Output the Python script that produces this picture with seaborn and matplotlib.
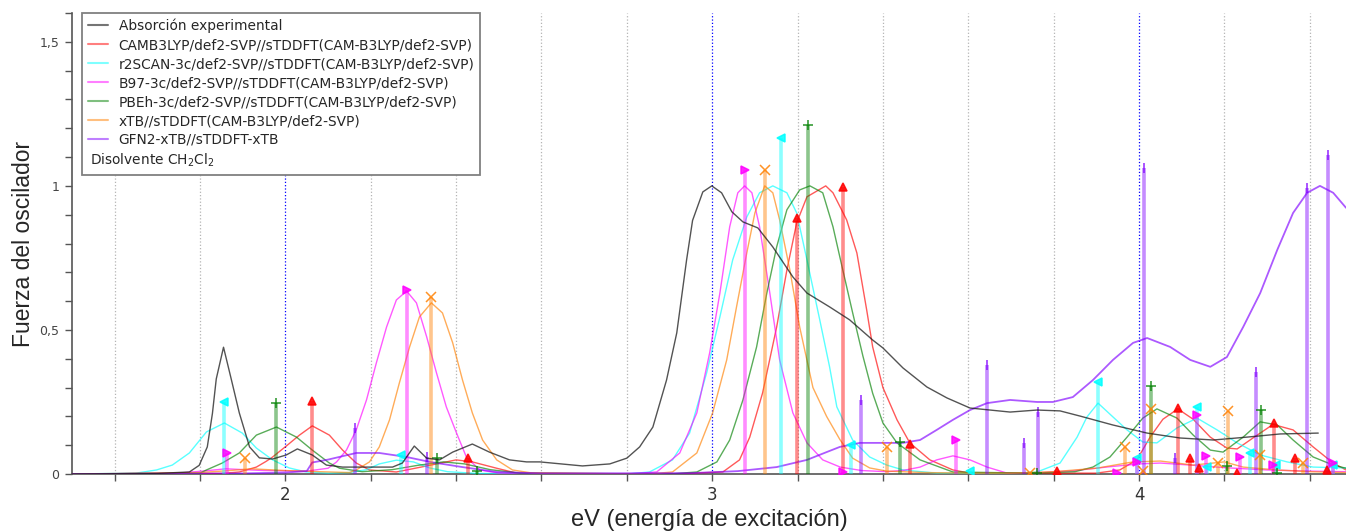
import numpy as np
import pandas as pd
import seaborn as sns
import matplotlib.pyplot as plt
from matplotlib.lines import Line2D

sns.set_theme(style="white")
plt.rcParams["font.family"] = ["DejaVu Sans"]

# ---- values (eV, normalised intensity / f) ----
exp_ev = [1.50, 1.70, 1.775, 1.798, 1.817, 1.829, 1.838, 1.855, 1.873, 1.892, 1.916, 1.939, 1.970,
          2.002, 2.028, 2.063, 2.096, 2.134, 2.251, 2.274, 2.302, 2.331, 2.361, 2.392, 2.438, 2.478,
          2.525, 2.565, 2.596, 2.696, 2.760, 2.800, 2.830, 2.861, 2.893, 2.917, 2.940, 2.954, 2.978,
          2.999, 3.022, 3.046, 3.072, 3.107, 3.142, 3.189, 3.222, 3.275, 3.322, 3.376, 3.400, 3.447,
          3.503, 3.550, 3.604, 3.698, 3.761, 3.815, 3.862, 3.939, 4.019, 4.096, 4.174, 4.253, 4.331, 4.420]
exp_abs = [0.0, 0.002, 0.007, 0.030, 0.094, 0.21, 0.33, 0.44, 0.33, 0.212, 0.094, 0.056, 0.052,
           0.066, 0.087, 0.066, 0.031, 0.024, 0.024, 0.038, 0.097, 0.055, 0.049, 0.076, 0.104, 0.076,
           0.049, 0.042, 0.042, 0.028, 0.035, 0.055, 0.094, 0.163, 0.326, 0.49, 0.743, 0.88, 0.979,
           1.0, 0.976, 0.910, 0.875, 0.854, 0.788, 0.684, 0.628, 0.580, 0.535, 0.465, 0.4375, 0.368,
           0.302, 0.264, 0.229, 0.215, 0.222, 0.219, 0.201, 0.170, 0.142, 0.125, 0.118, 0.128, 0.139, 0.142]

cam_ev = [1.50, 1.85, 1.892, 1.932, 1.955, 1.970, 2.002, 2.033, 2.063, 2.103, 2.134, 2.166, 2.197,
          2.26, 2.338, 2.40, 2.438, 2.495, 2.542, 2.90, 3.025, 3.064, 3.088, 3.118, 3.151, 3.175,
          3.198, 3.222, 3.266, 3.283, 3.315, 3.339, 3.362, 3.376, 3.400, 3.433, 3.463, 3.510, 3.564,
          3.604, 3.90, 3.955, 3.995, 4.026, 4.056, 4.091, 4.127, 4.167, 4.206, 4.230, 4.267, 4.314,
          4.361, 4.408, 4.455, 4.485]
cam_int = [0.0, 0.002, 0.007, 0.024, 0.044, 0.059, 0.097, 0.135, 0.167, 0.135, 0.083, 0.038, 0.014,
           0.007, 0.030, 0.049, 0.042, 0.020, 0.003, 0.0, 0.007, 0.049, 0.128, 0.281, 0.51, 0.708,
           0.872, 0.962, 1.0, 0.976, 0.882, 0.767, 0.569, 0.441, 0.30, 0.188, 0.108, 0.049, 0.014,
           0.003, 0.003, 0.014, 0.049, 0.128, 0.19, 0.226, 0.19, 0.128, 0.090, 0.087, 0.125, 0.172,
           0.153, 0.094, 0.038, 0.014]
cam_stick_ev = [2.063, 2.427, 3.198, 3.306, 3.463, 3.808, 4.091, 4.120, 4.140, 4.230, 4.316, 4.366, 4.440]
cam_stick_f = [0.253, 0.055, 0.89, 0.997, 0.105, 0.01, 0.23, 0.055, 0.02, 0.005, 0.177, 0.055, 0.015]

r2s_ev = [1.50, 1.65, 1.698, 1.735, 1.775, 1.815, 1.857, 1.899, 1.932, 1.970, 2.009, 2.049, 2.10,
          2.15, 2.19, 2.22, 2.26, 2.30, 2.338, 2.38, 2.45, 2.80, 2.853, 2.907, 2.947, 2.987, 3.018,
          3.048, 3.081, 3.111, 3.142, 3.175, 3.198, 3.222, 3.252, 3.275, 3.292, 3.329, 3.369, 3.409,
          3.447, 3.526, 3.70, 3.761, 3.815, 3.855, 3.878, 3.904, 3.939, 3.972, 4.009, 4.042, 4.089,
          4.136, 4.183, 4.230, 4.284, 4.347, 4.408, 4.485]
r2s_int = [0.0, 0.003, 0.014, 0.031, 0.073, 0.146, 0.177, 0.142, 0.090, 0.049, 0.021, 0.007, 0.003,
           0.005, 0.015, 0.035, 0.048, 0.042, 0.021, 0.008, 0.002, 0.0, 0.007, 0.049, 0.142, 0.351, 0.545,
           0.743, 0.892, 0.976, 1.0, 0.976, 0.906, 0.743, 0.535, 0.372, 0.233, 0.118, 0.059, 0.031,
           0.014, 0.003, 0.002, 0.007, 0.038, 0.128, 0.198, 0.246, 0.198, 0.153, 0.111, 0.108, 0.16,
           0.194, 0.153, 0.108, 0.066, 0.042, 0.024, 0.021]
r2s_stick_ev = [1.855, 2.272, 3.161, 3.325, 3.604, 3.904, 3.995, 4.136, 4.160, 4.260, 4.320, 4.455]
r2s_stick_f = [0.25, 0.066, 1.167, 0.10, 0.01, 0.32, 0.055, 0.233, 0.024, 0.073, 0.031, 0.031]

b97_ev = [1.50, 1.75, 1.82, 1.86, 1.95, 2.05, 2.10, 2.120, 2.143, 2.166, 2.190, 2.213, 2.237, 2.260,
          2.284, 2.307, 2.331, 2.354, 2.377, 2.401, 2.424, 2.455, 2.50, 2.80, 2.870, 2.924, 2.964,
          2.994, 3.018, 3.041, 3.060, 3.076, 3.093, 3.111, 3.135, 3.158, 3.189, 3.222, 3.259, 3.30,
          3.35, 3.41, 3.45, 3.487, 3.526, 3.564, 3.604, 3.644, 3.691, 3.75, 3.85, 3.93, 4.00, 4.05,
          4.13, 4.20, 4.30, 4.40, 4.485]
b97_int = [0.0, 0.003, 0.012, 0.018, 0.012, 0.010, 0.020, 0.042, 0.083, 0.153, 0.257, 0.385, 0.510,
           0.604, 0.635, 0.594, 0.476, 0.351, 0.233, 0.142, 0.059, 0.014, 0.003, 0.0, 0.007, 0.073,
           0.212, 0.420, 0.628, 0.858, 0.976, 1.0, 0.976, 0.858, 0.628, 0.396, 0.212, 0.108, 0.049,
           0.024, 0.012, 0.008, 0.013, 0.024, 0.049, 0.063, 0.049, 0.024, 0.003, 0.003, 0.012, 0.025,
           0.035, 0.038, 0.030, 0.022, 0.014, 0.010, 0.008]
b97_stick_ev = [1.862, 2.284, 3.077, 3.306, 3.571, 3.948, 3.995, 4.136, 4.157, 4.237, 4.314, 4.455]
b97_stick_f = [0.073, 0.64, 1.055, 0.008, 0.118, 0.005, 0.042, 0.205, 0.063, 0.06, 0.03, 0.038]

pbeh_ev = [1.50, 1.80, 1.815, 1.852, 1.892, 1.932, 1.979, 2.026, 2.063, 2.103, 2.127, 2.18, 2.25,
           2.31, 2.37, 2.42, 2.48, 2.55, 2.90, 2.964, 3.011, 3.041, 3.072, 3.104, 3.128, 3.151, 3.175,
           3.205, 3.229, 3.259, 3.283, 3.306, 3.329, 3.353, 3.376, 3.400, 3.433, 3.487, 3.564, 3.75,
           3.85, 3.892, 3.932, 3.972, 4.009, 4.042, 4.089, 4.127, 4.167, 4.197, 4.244, 4.284, 4.324,
           4.361, 4.408, 4.455, 4.485]
pbeh_int = [0.0, 0.003, 0.014, 0.038, 0.073, 0.135, 0.163, 0.128, 0.083, 0.038, 0.020, 0.008, 0.015,
            0.030, 0.042, 0.035, 0.015, 0.003, 0.0, 0.007, 0.042, 0.118, 0.257, 0.441, 0.628, 0.788,
            0.917, 0.986, 1.0, 0.976, 0.858, 0.708, 0.56, 0.41, 0.28, 0.177, 0.108, 0.049, 0.007,
            0.003, 0.008, 0.024, 0.059, 0.128, 0.194, 0.226, 0.194, 0.135, 0.083, 0.076, 0.128, 0.181,
            0.170, 0.118, 0.059, 0.031, 0.02]
pbeh_stick_ev = [1.977, 2.356, 2.45, 3.224, 3.44, 3.761, 4.028, 4.206, 4.286, 4.324]
pbeh_stick_f = [0.245, 0.055, 0.01, 1.21, 0.11, 0.005, 0.305, 0.028, 0.222, 0.005]

xtb_ev = [1.50, 1.80, 1.87, 1.92, 2.00, 2.08, 2.15, 2.166, 2.197, 2.220, 2.244, 2.267, 2.291, 2.314,
          2.342, 2.368, 2.392, 2.415, 2.438, 2.462, 2.495, 2.532, 2.58, 2.85, 2.907, 2.964, 3.001,
          3.034, 3.057, 3.081, 3.100, 3.123, 3.142, 3.158, 3.182, 3.205, 3.236, 3.268, 3.299, 3.329,
          3.369, 3.409, 3.50, 3.60, 3.70, 3.80, 3.90, 3.986, 4.05, 4.127, 4.20, 4.244, 4.324, 4.40, 4.485]
xtb_int = [0.0, 0.005, 0.012, 0.018, 0.012, 0.008, 0.005, 0.014, 0.042, 0.094, 0.188, 0.316, 0.441,
           0.545, 0.594, 0.559, 0.455, 0.326, 0.212, 0.118, 0.049, 0.014, 0.003, 0.0, 0.007, 0.073,
           0.212, 0.396, 0.580, 0.767, 0.906, 1.0, 0.976, 0.882, 0.708, 0.510, 0.30, 0.20, 0.12, 0.055,
           0.021, 0.010, 0.005, 0.003, 0.003, 0.008, 0.02, 0.042, 0.045, 0.031, 0.042, 0.024, 0.014,
           0.008, 0.005]
xtb_stick_ev = [1.906, 2.342, 3.123, 3.409, 3.745, 3.967, 4.009, 4.028, 4.185, 4.209, 4.284, 4.385]
xtb_stick_f = [0.055, 0.615, 1.055, 0.094, 0.003, 0.094, 0.01, 0.225, 0.038, 0.22, 0.066, 0.038]

gfn_ev = [1.50, 1.90, 2.00, 2.05, 2.063, 2.10, 2.166, 2.220, 2.284, 2.338, 2.415, 2.495, 2.60, 2.95,
          3.06, 3.151, 3.222, 3.268, 3.299, 3.346, 3.447, 3.487, 3.526, 3.564, 3.604, 3.644, 3.698,
          3.761, 3.798, 3.845, 3.892, 3.939, 3.986, 4.019, 4.073, 4.120, 4.167, 4.206, 4.244, 4.284,
          4.324, 4.361, 4.394, 4.424, 4.455, 4.485]
gfn_int = [0.0, 0.002, 0.005, 0.01, 0.04, 0.05, 0.073, 0.073, 0.059, 0.042, 0.024, 0.007, 0.002, 0.003,
           0.010, 0.024, 0.049, 0.076, 0.094, 0.108, 0.108, 0.118, 0.153, 0.188, 0.222, 0.246, 0.257,
           0.250, 0.250, 0.267, 0.326, 0.396, 0.455, 0.472, 0.441, 0.396, 0.372, 0.406, 0.510, 0.628,
           0.778, 0.906, 0.976, 1.0, 0.976, 0.924]
gfn_stick_ev = [2.164, 2.331, 3.348, 3.644, 3.73, 3.763, 4.012, 4.084, 4.274, 4.394, 4.443]
gfn_stick_f = [0.16, 0.06, 0.257, 0.378, 0.108, 0.215, 1.063, 0.055, 0.354, 0.993, 1.108]

labels = ["CAMB3LYP/def2-SVP//sTDDFT(CAM-B3LYP/def2-SVP)",
          "r2SCAN-3c/def2-SVP//sTDDFT(CAM-B3LYP/def2-SVP)",
          "B97-3c/def2-SVP//sTDDFT(CAM-B3LYP/def2-SVP)",
          "PBEh-3c/def2-SVP//sTDDFT(CAM-B3LYP/def2-SVP)",
          "xTB//sTDDFT(CAM-B3LYP/def2-SVP)",
          "GFN2-xTB//sTDDFT-xTB"]

# ---- styles ----
colors = ["#ff0000", "#00ffff", "#ff00ff", "#008000", "#ff8000", "#8000ff"]
markers = ["^", "<", ">", "+", "x", "|"]
curves = [(cam_ev, cam_int), (r2s_ev, r2s_int), (b97_ev, b97_int),
          (pbeh_ev, pbeh_int), (xtb_ev, xtb_int), (gfn_ev, gfn_int)]
sticks = [(cam_stick_ev, cam_stick_f), (r2s_stick_ev, r2s_stick_f), (b97_stick_ev, b97_stick_f),
          (pbeh_stick_ev, pbeh_stick_f), (xtb_stick_ev, xtb_stick_f), (gfn_stick_ev, gfn_stick_f)]

fig, ax = plt.subplots(figsize=(13.46, 5.31), dpi=100)
fig.subplots_adjust(left=72 / 1346, right=1.0, bottom=57 / 531, top=1 - 13 / 531)

# vertical dotted grid: grey every 0.2 eV, blue on whole eV
for gx in np.arange(1.6, 4.45, 0.2):
    whole = abs(gx - round(gx)) < 1e-6
    ax.axvline(gx, color="#0000ff" if whole else "#b4b4b4", ls=":", lw=0.9, zorder=0)

# calculated spectra
for (ev, val), c in zip(curves, colors):
    df = pd.DataFrame({"eV": ev, "f": val})
    sns.lineplot(data=df, x="eV", y="f", color=c, lw=1.3 if c == "#8000ff" else 1.0,
                 alpha=0.65, sort=False, estimator=None, ax=ax, zorder=3)

# transitions (sticks)
for (ev, f), c, m in zip(sticks, colors, markers):
    ax.vlines(ev, 0, f, colors=c, lw=2.6, alpha=0.45, zorder=4)
    ax.plot(ev, f, ls="none", marker=m, color=c, ms=6 if m not in "+x|" else 7,
            mew=1.1, alpha=0.85, zorder=5)

# experimental
sns.lineplot(x=exp_ev, y=exp_abs, color="#1a1a1a", lw=1.0, alpha=0.75, sort=False,
             estimator=None, ax=ax, zorder=6)

ax.set_xlim(1.5, 4.485)
ax.set_ylim(0, 1.6)

xt = np.round(np.arange(1.6, 4.45, 0.2), 1)
ax.set_xticks(xt)
ax.set_xticklabels([str(int(round(v))) if abs(v - round(v)) < 1e-6 else "" for v in xt],
                   fontsize=12, color="#333333")
yt = np.round(np.arange(0, 1.61, 0.1), 1)
ylab = {0.0: "0", 0.5: "0,5", 1.0: "1", 1.5: "1,5"}
ax.set_yticks(yt)
ax.set_yticklabels([ylab.get(v, "") for v in yt], fontsize=9, color="#444444")
ax.tick_params(axis="both", direction="out", length=5, width=1, color="#555555",
               bottom=True, left=True, pad=4)

sns.despine(ax=ax)
for s in ("left", "bottom"):
    ax.spines[s].set_color("#555555")
    ax.spines[s].set_linewidth(1.2)

ax.set_xlabel("eV (energía de excitación)", fontsize=17, labelpad=3,
              family=["Liberation Sans", "DejaVu Sans"])
ax.set_ylabel("Fuerza del oscilador", fontsize=16.5, labelpad=3,
              family=["Liberation Sans", "DejaVu Sans"])

handles = [Line2D([], [], color="#1a1a1a", lw=1.5, alpha=0.6)]
handles += [Line2D([], [], color=c, lw=1.5, alpha=0.5) for c in colors]
handles += [Line2D([], [], color="none")]
leg = ax.legend(handles, ["Absorción experimental"] + labels + ["Disolvente CH$_2$Cl$_2$"],
                loc="upper left", bbox_to_anchor=(10 / 1274, 1.0), borderaxespad=0,
                fontsize=9.9, handlelength=1.5, handletextpad=0.75, labelspacing=0.36,
                borderpad=0.42, fancybox=False, framealpha=1, edgecolor="#808080")
leg.get_frame().set_linewidth(1.3)
# solvent line sits at the handle column, not the text column
leg.get_texts()[-1].set_x(-29)

fig.savefig("out.png", dpi=100)
